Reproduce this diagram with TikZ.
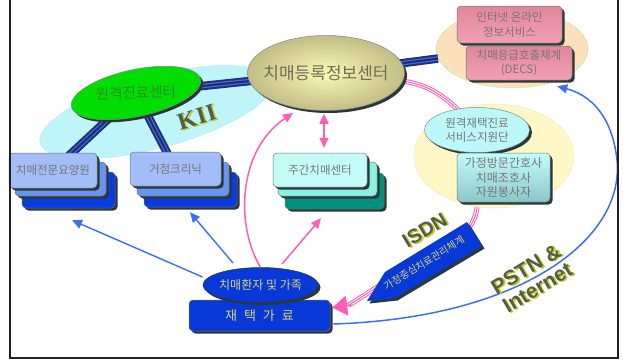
\documentclass[tikz,border=0pt]{standalone}
\usepackage{fontspec}
\setmainfont{Liberation Sans}
\newfontfamily\krfont{Noto Sans CJK KR}
\newfontfamily\romanbold{Liberation Serif}
\usetikzlibrary{shapes.geometric,shadows,arrows.meta,calc}
\pgfdeclarelayer{back}
\pgfdeclarelayer{mid}
\pgfsetlayers{back,mid,main}

\definecolor{shadowc}{HTML}{2B3838}
\definecolor{graytext}{HTML}{767676}
\definecolor{kiibg}{HTML}{BFF5F8}
\definecolor{kiiedge}{HTML}{A6D8EA}
\definecolor{greenfill}{HTML}{00DD00}
\definecolor{greentext}{HTML}{2E8E2E}
\definecolor{khakiin}{HTML}{FAFAB4}
\definecolor{khakiout}{HTML}{C2BD86}
\definecolor{khakitext}{HTML}{6E6E58}
\definecolor{cablenavy}{HTML}{1C2F7A}
\definecolor{cableblue}{HTML}{4A6AD8}
\definecolor{lightblue}{HTML}{A2BDF8}
\definecolor{midblue}{HTML}{6A94F2}
\definecolor{deepblue}{HTML}{0A3AE0}
\definecolor{palecyan}{HTML}{C4FCF8}
\definecolor{aqua}{HTML}{8EF0E2}
\definecolor{tealdark}{HTML}{00907E}
\definecolor{peach}{HTML}{FCE0BA}
\definecolor{peachedge}{HTML}{8EE07A}
\definecolor{pinktop}{HTML}{E0869A}
\definecolor{pinkbot}{HTML}{F3A0B3}
\definecolor{lemon}{HTML}{FFF8C6}
\definecolor{lemonedge}{HTML}{D8D8B0}
\definecolor{cyanell}{HTML}{BCF8F8}
\definecolor{stafftop}{HTML}{C4FCFC}
\definecolor{staffbot}{HTML}{8CC6C6}
\definecolor{royal}{HTML}{0838D8}
\definecolor{straw}{HTML}{D6D672}
\definecolor{pinkline}{HTML}{FF5EB4}
\definecolor{arrowblue}{HTML}{3E6EF2}
\definecolor{olivetext}{HTML}{515E48}
\definecolor{embyellow}{HTML}{C9C81E}
\definecolor{framec}{HTML}{222222}

% text with a yellow relief copy shifted down-right
\newcommand\embossed[1]{\leavevmode\rlap{\kern1.4pt\raisebox{-1.4pt}{\textcolor{embyellow}{#1}}}#1}
% text that does not widen its node
\newcommand\nowidth[1]{\makebox[0pt]{#1}}

\begin{document}
\begin{tikzpicture}[x=1pt,y=-1pt,
  shadowed/.style={drop shadow={shadow xshift=2.5pt,shadow yshift=-2.5pt,fill=shadowc,opacity=1}},
  card/.style={rectangle,rounded corners=4pt,draw=shadowc!70,line width=0.5pt,inner sep=0pt,shadowed},
  boxtext/.style={font=\fontsize{11.5}{14.5}\krfont,text=graytext,align=center},
  zone/.style={ellipse,inner sep=0pt,densely dotted,line width=0.6pt},
  oval/.style={ellipse,inner sep=0pt,draw=shadowc!60,line width=0.5pt,shadowed},
  cable/.style={draw=cableblue,line width=4.5pt,
    preaction={draw=cablenavy,line width=8.5pt},
    postaction={draw=cablenavy,line width=2.2pt}},
  triple/.style={draw=pinkline,line width=5pt,
    postaction={draw=white,line width=3pt},
    postaction={draw=pinkline,line width=1pt}},
  barrow/.style={draw=arrowblue,line width=1.4pt,-{Triangle[length=10pt,width=9pt]}},
  parrow/.style={draw=pinkline,line width=1.5pt},
  headed/.style={-{Triangle[length=10pt,width=9pt]}},
  relief/.style={text=olivetext,inner sep=0pt}]

\useasboundingbox (0,0) rectangle (623,360);

% ---- shaded areas behind the groups
\begin{pgfonlayer}{back}
  \node[zone,rotate=15,minimum width=240pt,minimum height=72pt,fill=kiibg,draw=kiiedge] (kiizone) at (156,112) {};
  \node[zone,minimum width=152pt,minimum height=78pt,fill=peach,draw=peachedge] (decszone) at (512,49) {};
  \node[zone,minimum width=160pt,minimum height=104pt,fill=lemon,draw=lemonedge] (homecarezone) at (494,156) {};
\end{pgfonlayer}

% ---- stacked cards
\node[card,fill=deepblue,minimum width=93pt,minimum height=36pt] (care3) at (68.5,190) {};
\node[card,fill=midblue,minimum width=91pt,minimum height=34pt] (care2) at (60.5,179) {};
\node[card,fill=lightblue,minimum width=88pt,minimum height=35pt,boxtext] (care) at (53,170.5) {치매전문요양원};

\node[card,fill=deepblue,minimum width=93pt,minimum height=35pt] (clinic3) at (190.5,189.5) {};
\node[card,fill=midblue,minimum width=92pt,minimum height=34pt] (clinic2) at (183,179) {};
\node[card,fill=lightblue,minimum width=91pt,minimum height=34pt,boxtext] (clinic) at (175.5,169) {거점크리닉};

\node[card,fill=tealdark,minimum width=99pt,minimum height=36pt] (day3) at (334.5,191) {};
\node[card,fill=aqua,minimum width=99pt,minimum height=34pt] (day2) at (327.5,179) {};
\node[card,fill=palecyan,minimum width=94pt,minimum height=34pt,boxtext] (day) at (320,170) {주간치매센터};

% ---- emergency services group
\node[card,top color=pinktop,bottom color=pinkbot,minimum width=105pt,minimum height=37pt,boxtext] (inet) at (509.5,24.5) {인터넷 온라인\\정보서비스};
\node[card,top color=pinktop,bottom color=pinkbot,minimum width=106pt,minimum height=34pt,boxtext] (decs) at (519,63) {치매응급호출체계\\(DECS)};

% ---- home care group
\node[oval,fill=cyanell,minimum width=105pt,minimum height=45pt,boxtext] (remote) at (477,130) {\nowidth{원격재택진료}\\\nowidth{서비스지원단}};
\node[card,top color=stafftop,bottom color=staffbot,minimum width=93pt,minimum height=49pt,boxtext,font=\fontsize{12}{14.5}\krfont] (staff) at (503.5,177.5) {가정방문간호사\\치매조호사\\자원봉사자};

% ---- central ellipses
\node[oval,rotate=12,fill=greenfill,minimum width=132pt,minimum height=47pt,
  font=\fontsize{14.5}{16}\krfont,text=greentext] (telemed) at (136,93) {\rotatebox{-10}{\nowidth{원격진료센터}}};
\node[oval,inner color=khakiin,outer color=khakiout,minimum width=157pt,minimum height=75pt,
  font=\fontsize{17}{19}\krfont,text=khakitext] (reg) at (326,73) {\nowidth{치매등록정보센터}};

% ---- patient and home
\node[card,fill=royal,minimum width=141pt,minimum height=31pt,font=\fontsize{13}{15}\krfont,text=straw] (home) at (259.5,315.5) {재\hspace{7pt}택\hspace{7pt}가\hspace{7pt}료};
\node[oval,fill=royal,draw=shadowc,minimum width=115pt,minimum height=35pt,font=\fontsize{12}{14}\krfont,text=straw] (patient) at (260.5,285) {\nowidth{치매환자 및 가족}};

% ---- network cables and pink lines under the shapes
\begin{pgfonlayer}{mid}
  \draw[cable] (telemed.center) -- (reg.center);
  \draw[cable] (telemed.center) -- (care.center);
  \draw[cable] (telemed.center) -- (clinic.center);
  \draw[cable] (reg.center) -- (decszone);
  \draw[triple] (reg.-6) .. controls (428,85) and (446,94) .. (remote.center);
  \draw[triple] ($(homecarezone.south)+(-17,-1)$) .. controls (476,216) and (473,223) .. (468,229) -- ($(home.east)+(18,-10)$);
\end{pgfonlayer}

% ---- ISDN banner
\path[fill=royal,shadowed] (467,222) -- (482,246) -- (395,298) -- (367,301) -- (385,272) -- cycle;
\node[rotate=31.5,font=\fontsize{10}{12}\krfont,text=straw,inner sep=0pt] (banner) at (424,263) {가정중심치료관리체계};
\draw[draw=pinkline,line width=1.2pt,-{Triangle[length=15pt,width=20pt]}] ($(home.east)+(22,-10.5)$) -- ($(home.east)+(2,-8)$);

% ---- arrows from the patient
\draw[barrow] ($(patient.center)+(-58,-8)$) -- ($(care3.south)+(3.5,12)$);
\draw[barrow] ($(patient.center)+(-27.5,-22)$) -- ($(clinic3.south)+(-0.5,5)$);
\draw[parrow,headed] (patient.north) .. controls (235,225) and (238,150) .. ($(reg.center)+(-33,40)$);
\draw[parrow,headed] ($(patient.center)+(21.5,-21)$) -- ($(day3.south)+(-13.5,9)$);
\draw[parrow,{Triangle[length=10pt,width=9pt]}-{Triangle[length=10pt,width=9pt]}] ($(reg.south)+(-2,3)$) -- ($(day.north)+(4,-5)$);

% ---- internet link
\draw[barrow,line width=1.5pt] ($(home.east)+(3,8.5)$) .. controls (520,318) and (625,240) .. (617,160)
  .. controls (612,115) and (590,95) .. ($(decs.south east)+(-15,6)$);

% ---- relief labels
\node[relief,rotate=17,font=\romanbold\bfseries\fontsize{24}{26}\selectfont] (kii) at (197,118) {\embossed{K\kern1ptI\kern1ptI}};
\node[relief,rotate=31,font=\bfseries\fontsize{20}{22}\selectfont] (isdn) at (425,231) {\embossed{ISDN}};
\node[relief,rotate=31,align=center,font=\bfseries\fontsize{21}{22}\selectfont] (pstn) at (532,279) {\embossed{PSTN \&}\\\embossed{Internet}};

% ---- frame
\draw[framec,line width=2pt] (10,-2) -- (10,358) -- (618,358) -- (618,-2);
\end{tikzpicture}
\end{document}
